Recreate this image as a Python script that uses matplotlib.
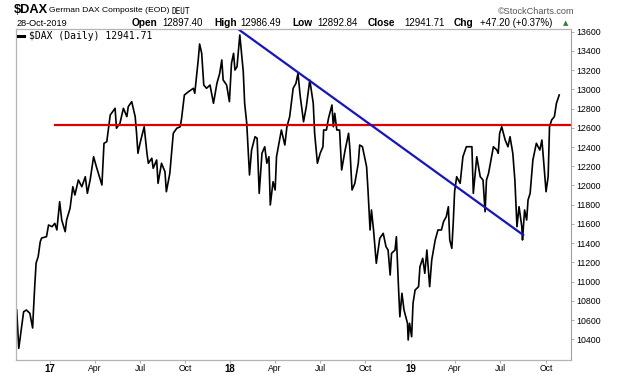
import pandas as pd
import matplotlib.pyplot as plt

# Trading calendar shown on the chart
calendar = pd.bdate_range('2016-10-26', '2019-10-28')

# Closes, keyed by trading session number
session = [0, 3, 6, 10, 14, 19, 23, 24, 26, 28, 31, 34, 36, 43, 46, 51, 55, 58, 62, 65,
           70, 72, 77, 81, 84, 89, 94, 99, 102, 106, 111, 115, 120, 123, 126, 130, 135, 142, 144, 149,
           154, 159, 161, 166, 171, 173, 175, 178, 184, 188, 190, 195, 197, 202, 204, 209, 214, 216, 221, 226,
           231, 236, 238, 242, 248, 255, 257, 262, 264, 267, 270, 274, 279, 284, 289, 293, 296, 298, 303, 307,
           310, 313, 315, 318, 322, 327, 329, 332, 336, 339, 344, 347, 350, 354, 358, 361, 364, 366, 370, 373,
           375, 382, 387, 390, 394, 399, 403, 406, 409, 414, 418, 423, 428, 430, 434, 438, 442, 443, 447, 450,
           455, 457, 459, 462, 466, 468, 469, 474, 479, 481, 484, 488, 493, 495, 499, 503, 505, 507, 510, 512,
           515, 517, 519, 524, 529, 533, 536, 539, 541, 546, 548, 551, 553, 556, 559, 564, 565, 567, 570, 572,
           575, 580, 582, 586, 589, 592, 596, 599, 604, 608, 613, 616, 620, 623, 625, 628, 630, 632, 635, 640,
           644, 649, 657, 659, 664, 669, 673, 676, 678, 681, 685, 688, 693, 695, 697, 700, 705, 709, 712, 716,
           719, 722, 725, 729, 730, 733, 736, 738, 741, 745, 750, 755, 758, 760, 764, 767, 769, 772, 776, 779,
           783]
close = [10704, 10305, 10465, 10686, 10704, 10670, 10517, 10670, 10947, 11193, 11259, 11415, 11453, 11467, 11589, 11571, 11606, 11537, 11831, 11640,
         11519, 11640, 11762, 11987, 11901, 12057, 11987, 12091, 11918, 12057, 12299, 12195, 12074, 12005, 12439, 12455, 12733, 12803, 12595, 12647,
         12803, 12716, 12820, 12872, 12716, 12543, 12335, 12439, 12611, 12335, 12231, 12283, 12179, 12265, 12022, 12231, 12143, 11935, 12126, 12543,
         12595, 12611, 12699, 12941, 12976, 13011, 12959, 13306, 13472, 13375, 13045, 13011, 13045, 12855, 13063, 13167, 13306, 13097, 13045, 12872,
         13271, 13375, 13201, 13236, 13566, 13184, 12855, 12647, 12109, 12369, 12507, 12491, 11918, 12335, 12403, 12231, 12299, 11797, 12039, 11953,
         12299, 12577, 12421, 12611, 12716, 13011, 13063, 13167, 12941, 12663, 12820, 13097, 12855, 12543, 12231, 12335, 12403, 12577, 12577, 12699,
         12837, 12611, 12751, 12577, 12577, 12299, 12161, 12369, 12543, 12369, 11953, 12022, 12231, 12421, 12403, 12265, 12195, 11953, 11537, 11745,
         11537, 11363, 11190, 11450, 11502, 11363, 11328, 11068, 11294, 11328, 11467, 10947, 10634, 10878, 10704, 10566, 10392, 10566, 10426, 10774,
         10912, 10947, 11155, 11242, 11086, 11328, 10947, 11224, 11432, 11537, 11537, 11623, 11675, 11779, 11433, 11346, 11606, 11935, 12091, 12022,
         12299, 12403, 12403, 11918, 12299, 12091, 12057, 11727, 12057, 12126, 12283, 12403, 12369, 12335, 12543, 12611, 12473, 12403, 12507, 12335,
         12057, 11571, 11779, 11571, 11433, 11745, 11640, 11849, 11918, 12265, 12439, 12369, 12473, 12299, 11935, 12091, 12611, 12681, 12716, 12855,
         12941.71]

# Drawn lines: horizontal support and falling trendline
support_level = 12630
support_start = 55
trend_sessions = [320, 731]
trend_values = [13625, 11485]

y_ticks = list(range(10400, 13601, 200))

plt.rcParams['font.family'] = ['Liberation Sans', 'DejaVu Sans']
fig = plt.figure(figsize=(6.2, 3.76), dpi=100)
ax = fig.add_axes([16 / 620, 16 / 376, (571 - 16) / 620, (360 - 29) / 376])

ax.plot(session, close, color='black', linewidth=1.2, label=r'\$DAX (Daily) 12941.71')
ax.plot([support_start, 800], [support_level, support_level], color='#dd0000', linewidth=1.6)
ax.plot(trend_sessions, trend_values, color='#1414c8', linewidth=1.6)

ax.set_xlim(-1, 800)
ax.set_ylim(10184, 13628)

# quarter ticks at the first session of Jan/Apr/Jul/Oct
tick_pos, tick_lab, tick_bold = [], [], []
for period in pd.period_range('2017-01', '2019-10', freq='Q'):
    first = calendar.searchsorted(period.start_time)
    tick_pos.append(first)
    if period.quarter == 1:
        tick_lab.append(period.start_time.strftime('%y'))
        tick_bold.append(True)
    else:
        tick_lab.append(period.start_time.strftime('%b'))
        tick_bold.append(False)
ax.set_xticks(tick_pos)
ax.set_xticklabels(tick_lab, fontsize=6.2)
for lab, bold in zip(ax.get_xticklabels(), tick_bold):
    if bold:
        lab.set_fontweight('bold')
        lab.set_fontsize(7)

ax.yaxis.tick_right()
ax.set_yticks(y_ticks)
ax.set_yticklabels([str(t) for t in y_ticks], fontsize=6.3)
ax.tick_params(axis='y', length=2, width=0.6, color='#a0a0a0', pad=1.5)
ax.tick_params(axis='x', length=2, width=0.6, color='#a0a0a0', pad=0.8)

for side in ['left', 'top', 'bottom']:
    ax.spines[side].set_color('#b4b4b4')
    ax.spines[side].set_linewidth(0.9)
ax.spines['right'].set_color('#a0a0a0')
ax.spines['right'].set_linestyle((0, (1, 1)))
ax.spines['right'].set_linewidth(0.8)

leg = ax.legend(loc='upper left', frameon=False, handlelength=0.6, handletextpad=0.45,
                borderaxespad=0.15, borderpad=0.1,
                prop={'family': 'DejaVu Sans Mono', 'size': 7})
for h in leg.legend_handles:
    h.set_linewidth(2.2)


def px(x, y):
    return x / 620, 1 - y / 376


# header rows
fig.text(*px(14, 10), r'\$DAX', fontsize=9.2, fontweight='bold', va='center')
fig.text(*px(49, 11), 'German DAX Composite (EOD)', fontsize=6.1, va='center')
fig.text(*px(172, 11.5), 'DEUT', fontsize=5.6, va='center', family='DejaVu Sans Mono')
fig.text(*px(574, 11.5), '\u00a9StockCharts.com', fontsize=6.6, va='center', ha='right', color='#555555')

fig.text(*px(16, 23.5), '28-Oct-2019', fontsize=6.6, va='center')
header_parts = [(132, 'Open', True), (162.5, '12897.40', False),
                (214, 'High', True), (240, '12986.49', False),
                (292.5, 'Low', True), (317.5, '12892.84', False),
                (368, 'Close', True), (404, '12941.71', False),
                (454, 'Chg', True), (480.5, '+47.20 (+0.37%)', False)]
for x, txt, bold in header_parts:
    fig.text(*px(x, 23.5), txt, fontsize=7.3 if bold else 7.0, va='center',
             fontweight='bold' if bold else 'normal')
fig.text(*px(566, 23), '\u25b2', fontsize=5, va='center', ha='center', color='#2e7d32',
         family='DejaVu Sans')

fig.savefig('out.png', dpi=100)
